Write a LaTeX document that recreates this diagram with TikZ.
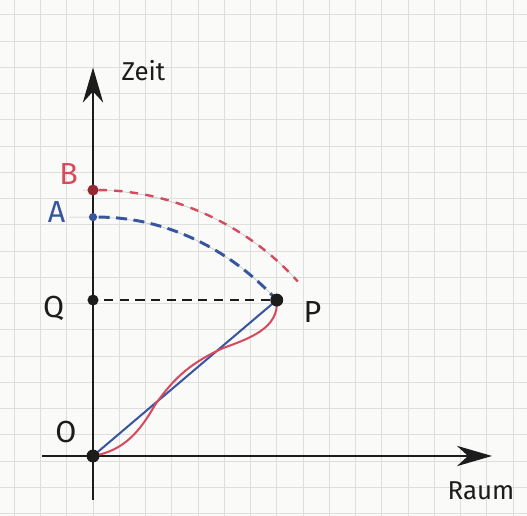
\documentclass[tikz,border=0pt]{standalone}
\usepackage{fontspec}
\setmainfont{Fira Sans}
\usepackage{xcolor}
\usetikzlibrary{arrows.meta}
\definecolor{paper}{RGB}{250,250,248}
\definecolor{gridgray}{RGB}{222,222,222}
\definecolor{penred}{RGB}{214,74,94}
\definecolor{penblue}{RGB}{56,86,158}
\definecolor{dotred}{RGB}{150,40,50}
\definecolor{ink}{RGB}{28,28,28}

\begin{document}
\begin{tikzpicture}[x=0.5cm,y=0.5cm,>={Stealth[length=19pt,width=11pt,inset=6pt]},
  lbl/.style={font=\fontsize{16.5}{18}\selectfont,text=ink,inner sep=0pt},
  axislbl/.style={font=\fontsize{14}{16}\selectfont,text=ink,inner sep=0pt},
  axis/.style={draw=ink,line width=1.2pt},
  dot/.style={circle,fill=ink,inner sep=0pt,minimum size=6pt},
  guide/.style={draw=black!25,line width=0.3pt}]
  % paper with squares
  \useasboundingbox (-3.543,-2.286) rectangle (16.533,17.371);
  \fill[paper] (-3.543,-2.286) rectangle (16.533,17.371);
  \draw[gridgray,line width=0.5pt,step=1,shift={(0,-0.19)}] (-3.543,-2.1) grid (16.533,17.55);

  \coordinate (O) at (0,0);
  \coordinate (Q) at (0,5.94);
  \coordinate (P) at (7,5.94);
  \coordinate (A) at (0,9.1);
  \coordinate (B) at (0,10.13);
  \coordinate (Bend) at (7.8,6.65);
  \coordinate (ytop) at (0,14.8);
  \coordinate (ybot) at (0,-1.68);
  \coordinate (xleft) at (-1.94,0);
  \coordinate (xright) at (15.2,0);

  % pencil guides
  \draw[guide] (-0.9,9.1) -- (A) .. controls (2.5,9.1) and (5,8.1) .. (P);
  \draw[guide] (-0.4,10.13) -- (B) .. controls (2.6,10.13) and (5.6,9.1) .. (Bend);

  % axes
  \draw[axis,->] (ybot) -- (ytop);
  \draw[axis,->] (xleft) -- (xright);

  % curves
  \draw[penblue,line width=1.6pt,dash pattern=on 6pt off 3.5pt,shorten <=3pt] (A) .. controls (2.5,9.1) and (5,8.1) .. (P);
  \draw[penred,line width=1.3pt,dash pattern=on 4.5pt off 4pt,shorten <=3pt] (B) .. controls (2.6,10.13) and (5.6,9.1) .. (Bend);
  \draw[ink,line width=1.2pt,dash pattern=on 5pt off 3.5pt,shorten <=6pt] (Q) -- (P);
  \draw[penblue,line width=1.1pt] (O) -- (P);
  \draw[penred,line width=1.1pt] (O) to[out=10,in=240] (2.36,1.94)
    to[out=55,in=205] (4.95,4.11) to[out=20,in=-85] (P);

  % points
  \node[dot,minimum size=7pt] (Odot) at (O) {};
  \node[dot] (Qdot) at (Q) {};
  \node[dot,minimum size=7pt] (Pdot) at (P) {};
  \node[dot,fill=penblue,minimum size=4.5pt] (Adot) at (A) {};
  \node[dot,fill=dotred] (Bdot) at (B) {};

  % labels
  \node[lbl] (labO) at (-1.03,0.91) {O};
  \node[lbl] (labQ) at (-1.5,5.64) {Q};
  \node[lbl] (labP) at (8.36,5.47) {P};
  \node[lbl,text=penblue] (labA) at (-1.39,9.31) {A};
  \node[lbl,text=penred] (labB) at (-0.93,10.74) {B};
  \node[axislbl] (zeit) at (1.92,14.69) {Zeit};
  \node[axislbl] (raum) at (14.78,-1.33) {Raum};
\end{tikzpicture}
\end{document}
